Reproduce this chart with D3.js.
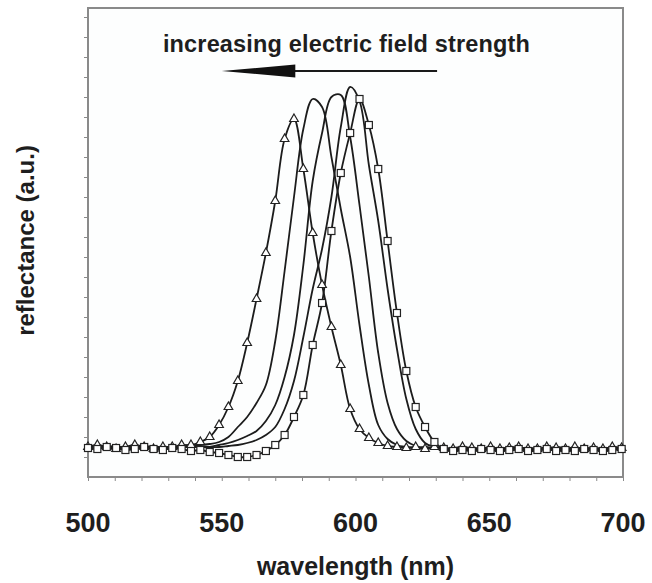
<!DOCTYPE html>
<html>
<head>
<meta charset="utf-8">
<script src="https://cdn.jsdelivr.net/npm/d3@7"></script>
<style>
  body { margin: 0; background: #fff; }
  text { font-family: "Liberation Sans", Arial, sans-serif; font-weight: bold; fill: #1e1e1e; }
  .frame { fill: #fdfefe; stroke: #8a8a8a; stroke-width: 2; }
  .line { fill: none; stroke: #1c1c1c; stroke-width: 1.8; }
  .mark { fill: #fff; stroke: #222; stroke-width: 1.2; }
  .tick line { stroke: #8a8a8a; }
</style>
</head>
<body>
<script>
// wavelengths of the sampled points (nm)
var wavelength = [500, 503.5, 507, 510.5, 514, 517.5, 521, 524.5, 528, 531.5, 535, 538.5,
  542, 545.5, 549, 552.5, 556, 559.5, 563, 566.5, 570, 573.5, 577, 580.5, 584, 587.5,
  591, 594.5, 598, 601.5, 605, 608.5, 612, 615.5, 619, 622.5, 626, 629.5, 633, 636.5,
  640, 643.5, 647, 650.5, 654, 657.5, 661, 664.5, 668, 671.5, 675, 678.5, 682, 685.5,
  689, 692.5, 696, 699.5];

// reflectance (a.u.), lowest field (triangles) to highest (squares)
var reflTriangle = [1.5, 1.6, 1.5, 1.4, 1.5, 1.6, 1.5, 1.4, 1.5, 1.5, 1.6, 1.6,
  1.75, 2.0, 2.6, 3.5, 4.8, 6.7, 8.9, 11.2, 13.8, 16.9, 17.9, 15.4, 12.2, 9.6,
  7.5, 5.6, 3.4, 2.4, 1.95, 1.7, 1.55, 1.5, 1.45, 1.5, 1.4, 1.5, 1.45, 1.4,
  1.5, 1.45, 1.4, 1.5, 1.4, 1.45, 1.5, 1.4, 1.4, 1.5, 1.45, 1.4, 1.5, 1.4,
  1.45, 1.4, 1.5, 1.45];
var reflB = [1.5, 1.45, 1.55, 1.5, 1.4, 1.5, 1.55, 1.5, 1.45, 1.5, 1.55, 1.6,
  1.6, 1.65, 1.75, 2.0, 2.5, 3.0, 3.7, 4.6, 6.8, 10.3, 14.0, 17.4, 18.9, 18.5,
  16.0, 13.4, 11.0, 7.6, 4.6, 2.6, 1.9, 1.6, 1.5, 1.45, 1.5, 1.45, 1.4, 1.45,
  1.5, 1.4, 1.45, 1.45, 1.4, 1.5, 1.45, 1.4, 1.45, 1.4, 1.5, 1.45, 1.4, 1.45,
  1.4, 1.45, 1.45, 1.4];
var reflC = [1.5, 1.5, 1.45, 1.5, 1.5, 1.45, 1.5, 1.5, 1.45, 1.5, 1.5, 1.5,
  1.5, 1.5, 1.6, 1.7, 1.85, 2.05, 2.3, 2.8, 3.6, 5.0, 7.1, 10.6, 14.8, 17.2,
  19.0, 19.1, 17.0, 13.6, 10.0, 6.2, 3.7, 2.4, 1.8, 1.55, 1.45, 1.45, 1.4, 1.45,
  1.4, 1.45, 1.4, 1.4, 1.45, 1.4, 1.4, 1.45, 1.4, 1.4, 1.45, 1.4, 1.4, 1.45,
  1.4, 1.4, 1.45, 1.4];
var reflD = [1.45, 1.5, 1.5, 1.45, 1.5, 1.5, 1.45, 1.5, 1.5, 1.45, 1.5, 1.5,
  1.5, 1.5, 1.5, 1.55, 1.6, 1.7, 1.85, 2.1, 2.5, 3.4, 4.8, 7.0, 9.4, 11.4,
  14.0, 17.5, 19.5, 18.8, 15.6, 12.8, 9.4, 6.4, 3.9, 2.4, 1.7, 1.5, 1.4, 1.4,
  1.35, 1.4, 1.4, 1.35, 1.4, 1.4, 1.35, 1.4, 1.4, 1.35, 1.4, 1.4, 1.35, 1.4,
  1.4, 1.35, 1.4, 1.4];
var reflSquare = [1.45, 1.4, 1.5, 1.45, 1.35, 1.4, 1.5, 1.4, 1.35, 1.45, 1.4, 1.3,
  1.35, 1.25, 1.2, 1.1, 1.0, 1.0, 1.1, 1.3, 1.6, 2.1, 3.0, 4.1, 6.6, 8.7,
  12.3, 15.2, 17.2, 18.9, 17.6, 15.4, 11.8, 8.2, 5.3, 3.5, 2.5, 1.75, 1.4, 1.3,
  1.35, 1.3, 1.4, 1.35, 1.3, 1.35, 1.4, 1.3, 1.35, 1.4, 1.3, 1.35, 1.3, 1.4,
  1.35, 1.3, 1.35, 1.4];

var xTicks = [500, 550, 600, 650, 700];
var xMinor = d3.range(500, 701, 10);
var yMinor = d3.range(1, 24, 1);

var margin = {top: 8, right: 29, bottom: 106, left: 88},
    width = 652 - margin.left - margin.right,
    height = 583 - margin.top - margin.bottom;

var x = d3.scaleLinear().domain([500, 700]).range([0, width]);
var y = d3.scaleLinear().domain([0, 23.45]).range([height, 0]);

var svg = d3.select("body").append("svg")
    .attr("width", width + margin.left + margin.right)
    .attr("height", height + margin.top + margin.bottom)
  .append("g")
    .attr("transform", "translate(" + margin.left + "," + margin.top + ")");

svg.append("rect")
    .attr("class", "frame")
    .attr("width", width)
    .attr("height", height);

// minor ticks, no labels on the y axis
svg.append("g")
    .attr("class", "x axis")
    .attr("transform", "translate(0," + height + ")")
    .call(d3.axisBottom(x).tickValues(xMinor).tickSize(4).tickFormat(""))
    .call(function(g) { g.select(".domain").remove(); });

svg.append("g")
    .attr("class", "y axis")
    .call(d3.axisLeft(y).tickValues(yMinor).tickSize(4).tickFormat(""))
    .call(function(g) { g.select(".domain").remove(); });

svg.selectAll(".xlabel")
    .data(xTicks)
  .enter().append("text")
    .attr("class", "xlabel")
    .attr("x", function(d) { return x(d); })
    .attr("y", height + 55)
    .attr("text-anchor", "middle")
    .style("font-size", "27px")
    .text(function(d) { return d; });

var series = [reflTriangle, reflB, reflC, reflD, reflSquare];

var line = d3.line()
    .curve(d3.curveCatmullRom.alpha(0.5))
    .x(function(d, i) { return x(wavelength[i]); })
    .y(function(d) { return y(d); });

svg.selectAll(".line")
    .data(series)
  .enter().append("path")
    .attr("class", "line")
    .attr("d", line);

var tri = d3.symbol().type(d3.symbolTriangle).size(32);
svg.selectAll(".tri")
    .data(reflTriangle)
  .enter().append("path")
    .attr("class", "mark tri")
    .attr("d", tri)
    .attr("transform", function(d, i) { return "translate(" + x(wavelength[i]) + "," + y(d) + ")"; });

svg.selectAll(".sq")
    .data(reflSquare)
  .enter().append("rect")
    .attr("class", "mark sq")
    .attr("x", function(d, i) { return x(wavelength[i]) - 3.5; })
    .attr("y", function(d) { return y(d) - 3.5; })
    .attr("width", 7)
    .attr("height", 7);

// annotation
svg.append("text")
    .attr("x", x(528))
    .attr("y", y(21.25))
    .attr("textLength", 367)
    .style("font-size", "23.5px")
    .text("increasing electric field strength");

svg.append("line")
    .attr("x1", x(577))
    .attr("x2", x(630.5))
    .attr("y1", y(20.3))
    .attr("y2", y(20.3))
    .attr("stroke", "#1a1a1a")
    .attr("stroke-width", 2.2);

svg.append("path")
    .attr("d", "M" + x(550) + "," + y(20.3) +
               "L" + x(577.5) + "," + (y(20.3) - 6.5) +
               "L" + x(577.5) + "," + (y(20.3) + 6.5) + "Z")
    .attr("fill", "#111");

svg.append("text")
    .attr("x", width / 2)
    .attr("y", height + 98)
    .attr("text-anchor", "middle")
    .style("font-size", "25px")
    .text("wavelength (nm)");

svg.append("text")
    .attr("transform", "rotate(-90)")
    .attr("x", -height / 2 + 2)
    .attr("y", -54)
    .attr("text-anchor", "middle")
    .style("font-size", "24px")
    .text("reflectance (a.u.)");
</script>
</body>
</html>
